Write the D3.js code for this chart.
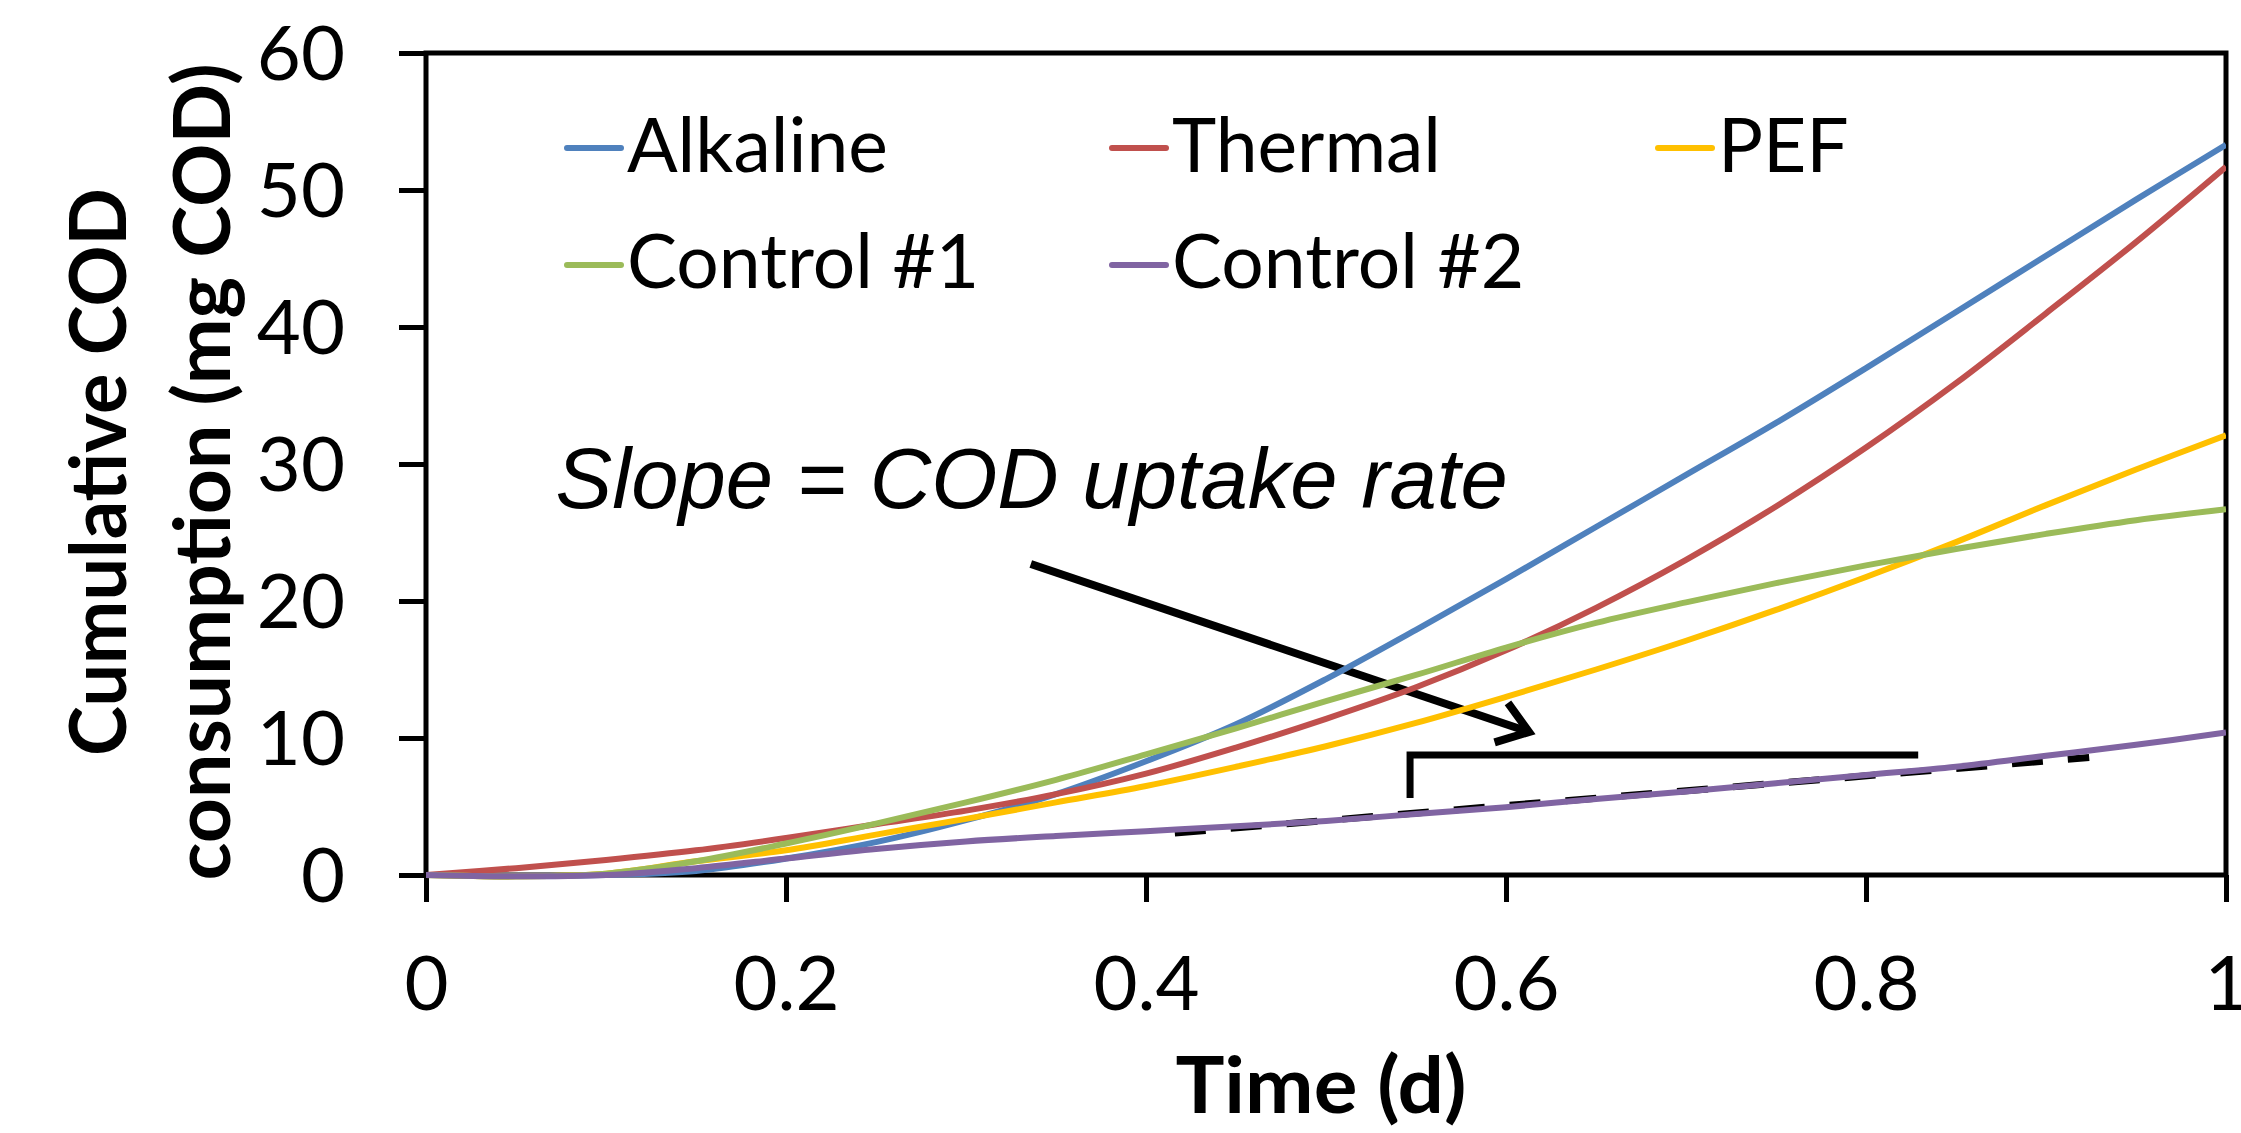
<!DOCTYPE html>
<html><head><meta charset="utf-8">
<script src="https://cdn.jsdelivr.net/npm/d3@7/dist/d3.min.js"></script>
<style>body{margin:0;background:#fff} svg{display:block;background:#fff}</style>
</head><body><svg id="c" width="2241" height="1133"></svg>
<script>
// ---- data ----
const times      = [0, 0.05, 0.1, 0.15, 0.2, 0.25, 0.3, 0.35, 0.4, 0.45, 0.5, 0.55, 0.6, 0.65, 0.7, 0.75, 0.8, 0.85, 0.9, 0.95, 1.0];
const alkaline   = [0, -0.1, 0.0, 0.3, 1.2, 2.4, 4.0, 5.9, 8.3, 11.0, 14.3, 17.9, 21.6, 25.4, 29.2, 33.0, 37.0, 41.1, 45.2, 49.3, 53.3];
const thermal    = [0, 0.5, 1.1, 1.8, 2.7, 3.7, 4.7, 5.9, 7.4, 9.3, 11.4, 13.7, 16.4, 19.5, 23.0, 26.9, 31.2, 35.9, 41.0, 46.2, 51.7];
const pef        = [0, -0.1, 0.1, 1.0, 1.8, 2.95, 4.1, 5.3, 6.5, 7.9, 9.4, 11.1, 13.0, 15.0, 17.1, 19.35, 21.75, 24.3, 27.0, 29.6, 32.1];
const control1   = [0, -0.1, 0.1, 1.0, 2.3, 3.75, 5.3, 6.95, 8.8, 10.7, 12.7, 14.6, 16.6, 18.4, 19.9, 21.3, 22.6, 23.8, 24.9, 25.9, 26.7];
const control2   = [0, -0.1, 0.0, 0.5, 1.2, 1.9, 2.45, 2.85, 3.2, 3.55, 3.95, 4.45, 4.95, 5.55, 6.1, 6.7, 7.3, 7.9, 8.7, 9.5, 10.4];
const seriesNames  = ["Alkaline", "Thermal", "PEF", "Control #1", "Control #2"];
const seriesColors = ["#4F81BD", "#C0504D", "#FFC000", "#9BBB59", "#8064A2"];
const xTicks      = [0, 0.2, 0.4, 0.6, 0.8, 1];
const xTickLabels = ["0", "0.2", "0.4", "0.6", "0.8", "1"];
const yTicks      = [0, 10, 20, 30, 40, 50, 60];
const xTitle = "Time (d)";
const yTitleLines = ["Cumulative COD", "consumption (mg COD)"];
const annotationText = "Slope = COD uptake rate";
// annotation geometry in data units
const slopeLineT = [0.416, 0.924], slopeLineV = [3.07, 8.58];
const bracketT = [0.5467, 0.829], bracketV = [8.76, 5.62];
const arrowT = [0.336, 0.6128], arrowV = [22.7, 10.44];
const annotationPos = [0.072, 26.8];

const allSeries = [alkaline, thermal, pef, control1, control2];

// ---- layout ----
const svg = d3.select("#c");
const L = 426, R = 2226, T = 53, B = 875;
const x = d3.scaleLinear().domain([0, 1]).range([L, R]);
const y = d3.scaleLinear().domain([0, 60]).range([B, T]);
const FONT = "Lato, 'Open Sans', sans-serif";

svg.append("defs").append("clipPath").attr("id", "clip")
  .append("rect").attr("x", L).attr("y", T - 5).attr("width", R - L).attr("height", B - T + 10);

// axes
const gy = svg.append("g").attr("transform", `translate(${L},0)`)
  .call(d3.axisLeft(y).tickValues(yTicks).tickSize(27).tickPadding(54).tickSizeOuter(0));
const gx = svg.append("g").attr("transform", `translate(0,${B})`)
  .call(d3.axisBottom(x).tickValues(xTicks).tickFormat((d, i) => xTickLabels[i]).tickSize(27).tickPadding(54).tickSizeOuter(0));
[gy, gx].forEach(g => {
  g.select(".domain").remove();
  g.selectAll(".tick line").attr("stroke", "#000").attr("stroke-width", 5);
  g.selectAll(".tick text").attr("fill", "#000").style("font-family", FONT).style("font-size", "76px");
});
gy.selectAll(".tick text").attr("dy", "0.35em");

// frame
svg.append("rect").attr("x", L).attr("y", T).attr("width", R - L).attr("height", B - T)
  .attr("fill", "none").attr("stroke", "#000").attr("stroke-width", 5);

// annotations (behind series)
const ann = svg.append("g");
ann.append("line")
  .attr("x1", x(slopeLineT[0])).attr("y1", y(slopeLineV[0]))
  .attr("x2", x(slopeLineT[1])).attr("y2", y(slopeLineV[1]))
  .attr("stroke", "#000").attr("stroke-width", 7).attr("stroke-dasharray", "31,25");
ann.append("path")
  .attr("d", `M${x(bracketT[0])},${y(bracketV[1])} L${x(bracketT[0])},${y(bracketV[0])} L${x(bracketT[1])},${y(bracketV[0])}`)
  .attr("fill", "none").attr("stroke", "#000").attr("stroke-width", 7);
// arrow
const ax1 = x(arrowT[0]), ay1 = y(arrowV[0]), ax2 = x(arrowT[1]), ay2 = y(arrowV[1]);
const ang = Math.atan2(ay2 - ay1, ax2 - ax1);
const hl = 36, ha = 0.62;
ann.append("line").attr("x1", ax1).attr("y1", ay1).attr("x2", ax2 - 3 * Math.cos(ang)).attr("y2", ay2 - 3 * Math.sin(ang))
  .attr("stroke", "#000").attr("stroke-width", 8);
ann.append("path")
  .attr("d", `M${ax2 - hl * Math.cos(ang - ha)},${ay2 - hl * Math.sin(ang - ha)} L${ax2},${ay2} L${ax2 - hl * Math.cos(ang + ha)},${ay2 - hl * Math.sin(ang + ha)}`)
  .attr("fill", "none").attr("stroke", "#000").attr("stroke-width", 8).attr("stroke-linejoin", "miter");
ann.append("text").attr("x", x(annotationPos[0])).attr("y", y(annotationPos[1]))
  .text(annotationText)
  .style("font-family", "'Liberation Sans', Arial, sans-serif").style("font-style", "italic").style("font-size", "85px");

// series
const line = d3.line().x((d, i) => x(times[i])).y(d => y(d)).curve(d3.curveCatmullRom.alpha(0.5));
svg.append("g").attr("clip-path", "url(#clip)").selectAll("path").data(allSeries).join("path")
  .attr("d", line).attr("fill", "none")
  .attr("stroke", (d, i) => seriesColors[i]).attr("stroke-width", 6);

// legend
const legendPos = [[567, 148, 172], [1112, 148, 172], [1658, 148, 172], [567, 265, 288], [1112, 265, 288]];
const lg = svg.append("g");
seriesNames.forEach((n, i) => {
  const [lx, ly, lb] = legendPos[i];
  lg.append("line").attr("x1", lx).attr("x2", lx + 54).attr("y1", ly).attr("y2", ly)
    .attr("stroke", seriesColors[i]).attr("stroke-width", 6).attr("stroke-linecap", "round");
  lg.append("text").attr("x", lx + 60).attr("y", lb).text(n)
    .style("font-family", FONT).style("font-size", "75px").attr("fill", "#000");
});

// axis titles
svg.append("text").attr("x", 1321).attr("y", 1113).attr("text-anchor", "middle").text(xTitle)
  .style("font-family", FONT).style("font-weight", "bold").style("font-size", "78px")
  .attr("textLength", 291).attr("lengthAdjust", "spacingAndGlyphs");
const yt = [[126, 568], [230, 817]];
yTitleLines.forEach((s, i) => {
  svg.append("text").attr("transform", `translate(${yt[i][0]},472) rotate(-90)`)
    .attr("text-anchor", "middle").text(s)
    .style("font-family", FONT).style("font-weight", "bold").style("font-size", "78px")
    .attr("textLength", yt[i][1]).attr("lengthAdjust", "spacingAndGlyphs");
});
</script></body></html>
